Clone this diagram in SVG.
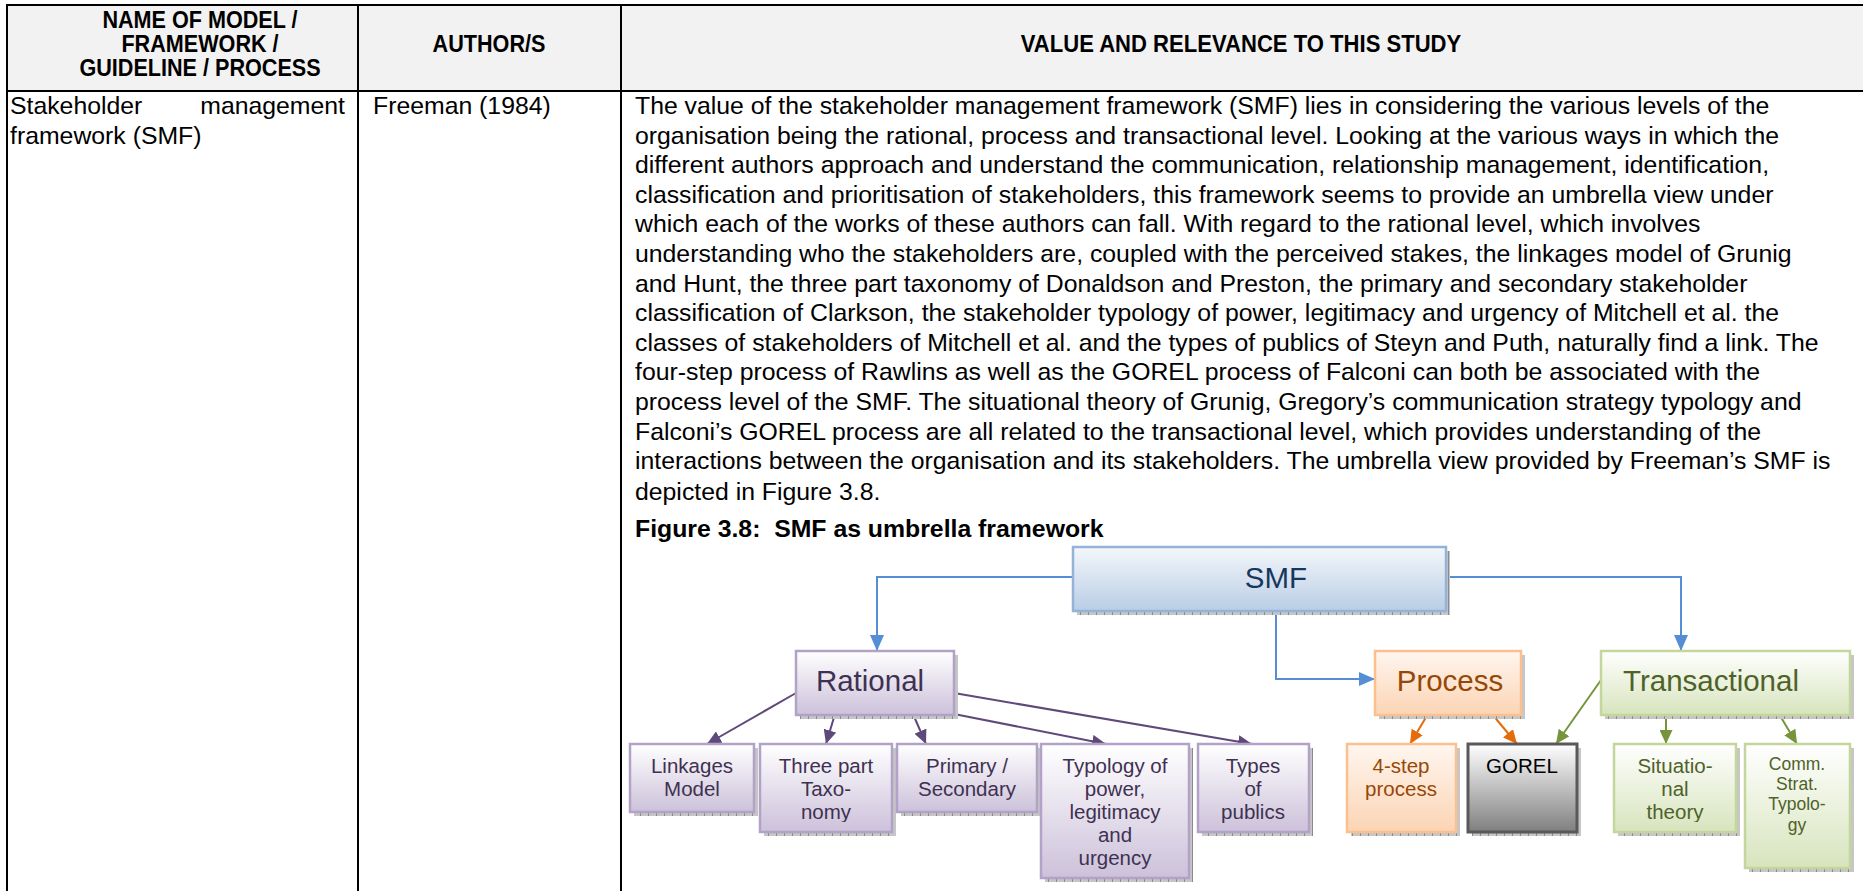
<svg xmlns="http://www.w3.org/2000/svg" width="1863" height="891" viewBox="0 0 1863 891">
<style>
.hd{font-family:"Liberation Sans",Arial,sans-serif;font-weight:bold;font-size:24px;fill:#000;text-anchor:middle}
.bd{font-family:"Liberation Sans",Arial,sans-serif;font-size:24.8px;fill:#000}
.cap{font-family:"Liberation Sans",Arial,sans-serif;font-size:24.8px;font-weight:bold;fill:#000}
.grid{stroke:#000;stroke-width:2;fill:none}
.big{font-family:"Liberation Sans",Arial,sans-serif;font-size:29.5px;text-anchor:middle}
.lf{font-family:"Liberation Sans",Arial,sans-serif;font-size:20.5px;text-anchor:middle}
.sm{font-family:"Liberation Sans",Arial,sans-serif;font-size:17.5px;text-anchor:middle}
.pur{fill:url(#gPur);stroke:#b3a2c7;stroke-width:2.5}
.ora{fill:url(#gOra);stroke:#fac08f;stroke-width:2.5}
.grn{fill:url(#gGrn);stroke:#c3d69b;stroke-width:2.5}
.shd{fill:url(#hatch)}
.tp{fill:#3f3151}.to{fill:#984806}.tg{fill:#4f6228}
.cb{stroke:#558ed5;stroke-width:2;fill:none}
.cp{stroke:#5f497a;stroke-width:2;fill:none}
.co{stroke:#e46c0a;stroke-width:2;fill:none}
.cg{stroke:#77933c;stroke-width:2;fill:none}
</style>
<defs>
<linearGradient id="gSMF" x1="0" y1="0" x2="0" y2="1"><stop offset="0" stop-color="#f4f7fb"/><stop offset="1" stop-color="#b9cde5"/></linearGradient>
<linearGradient id="gPur" x1="0" y1="0" x2="0" y2="1"><stop offset="0" stop-color="#ffffff"/><stop offset="1" stop-color="#ccc1da"/></linearGradient>
<linearGradient id="gOra" x1="0" y1="0" x2="0" y2="1"><stop offset="0" stop-color="#fff6ef"/><stop offset="1" stop-color="#fbd4b4"/></linearGradient>
<linearGradient id="gGrn" x1="0" y1="0" x2="0" y2="1"><stop offset="0" stop-color="#ffffff"/><stop offset="1" stop-color="#d7e4bd"/></linearGradient>
<linearGradient id="gGry" x1="0" y1="0" x2="0" y2="1"><stop offset="0" stop-color="#ffffff"/><stop offset="1" stop-color="#7f7f7f"/></linearGradient>
<pattern id="hatch" width="8" height="8" patternUnits="userSpaceOnUse"><rect width="8" height="8" fill="#c6c6c6"/><rect width="1" height="8" fill="#8a8a8a"/></pattern>
<marker id="mb" viewBox="0 0 10 10" refX="10" refY="5" markerWidth="16" markerHeight="14" markerUnits="userSpaceOnUse" orient="auto" preserveAspectRatio="none"><path d="M0,0 L10,5 L0,10 z" fill="#558ed5"/></marker>
<marker id="mp" viewBox="0 0 10 10" refX="10" refY="5" markerWidth="14" markerHeight="13" markerUnits="userSpaceOnUse" orient="auto" preserveAspectRatio="none"><path d="M0,0 L10,5 L0,10 z" fill="#5f497a"/></marker>
<marker id="mo" viewBox="0 0 10 10" refX="10" refY="5" markerWidth="14" markerHeight="13" markerUnits="userSpaceOnUse" orient="auto" preserveAspectRatio="none"><path d="M0,0 L10,5 L0,10 z" fill="#e46c0a"/></marker>
<marker id="mg" viewBox="0 0 10 10" refX="10" refY="5" markerWidth="14" markerHeight="13" markerUnits="userSpaceOnUse" orient="auto" preserveAspectRatio="none"><path d="M0,0 L10,5 L0,10 z" fill="#77933c"/></marker>
<clipPath id="clipLeaf"><rect x="600" y="744" width="1263" height="78"/></clipPath>
</defs>

<rect width="1863" height="891" fill="#ffffff"/>

<g id="table">
<rect x="7" y="5" width="1856" height="86" fill="#f2f2f2"/>
<line class="grid" x1="7" y1="5" x2="1863" y2="5"/>
<line class="grid" x1="7" y1="91" x2="1863" y2="91"/>
<line class="grid" x1="7" y1="4" x2="7" y2="891"/>
<line class="grid" x1="358" y1="4" x2="358" y2="891"/>
<line class="grid" x1="621" y1="4" x2="621" y2="891"/>
<text class="hd" transform="translate(200,28) scale(0.9,1)">NAME OF MODEL /</text>
<text class="hd" transform="translate(200,52) scale(0.9,1)">FRAMEWORK /</text>
<text class="hd" transform="translate(200,76) scale(0.9,1)">GUIDELINE / PROCESS</text>
<text class="hd" transform="translate(489,52) scale(0.9,1)">AUTHOR/S</text>
<text class="hd" transform="translate(1241,52) scale(0.92,1)">VALUE AND RELEVANCE TO THIS STUDY</text>
<text class="bd" x="10" y="114">Stakeholder</text>
<text class="bd" x="345" y="114" text-anchor="end">management</text>
<text class="bd" x="10" y="143.6">framework (SMF)</text>
<text class="bd" x="373" y="114">Freeman (1984)</text>
</g>

<g id="paragraph" class="bd">
<text x="635" y="114">The value of the stakeholder management framework (SMF) lies in considering the various levels of the</text>
<text x="635" y="143.6">organisation being the rational, process and transactional level. Looking at the various ways in which the</text>
<text x="635" y="173.2">different authors approach and understand the communication, relationship management, identification,</text>
<text x="635" y="202.8">classification and prioritisation of stakeholders, this framework seems to provide an umbrella view under</text>
<text x="635" y="232.4">which each of the works of these authors can fall. With regard to the rational level, which involves</text>
<text x="635" y="262">understanding who the stakeholders are, coupled with the perceived stakes, the linkages model of Grunig</text>
<text x="635" y="291.6">and Hunt, the three part taxonomy of Donaldson and Preston, the primary and secondary stakeholder</text>
<text x="635" y="321.2">classification of Clarkson, the stakeholder typology of power, legitimacy and urgency of Mitchell et al. the</text>
<text x="635" y="350.8">classes of stakeholders of Mitchell et al. and the types of publics of Steyn and Puth, naturally find a link. The</text>
<text x="635" y="380.4">four-step process of Rawlins as well as the GOREL process of Falconi can both be associated with the</text>
<text x="635" y="410">process level of the SMF. The situational theory of Grunig, Gregory’s communication strategy typology and</text>
<text x="635" y="439.6">Falconi’s GOREL process are all related to the transactional level, which provides understanding of the</text>
<text x="635" y="469.2">interactions between the organisation and its stakeholders. The umbrella view provided by Freeman’s SMF is</text>
<text x="635" y="499.8">depicted in Figure 3.8.</text>
<text class="cap" x="635" y="537" xml:space="preserve">Figure 3.8:  SMF as umbrella framework</text>
</g>

<g id="connectors">
<path class="cb" d="M1073,577 H877 V651" marker-end="url(#mb)"/>
<path class="cb" d="M1446,577 H1681 V651" marker-end="url(#mb)"/>
<path class="cb" d="M1276,611 V679 H1375" marker-end="url(#mb)"/>
<path class="cp" d="M796,693 L707,744" marker-end="url(#mp)"/>
<path class="cp" d="M835,714 L826,744" marker-end="url(#mp)"/>
<path class="cp" d="M913,714 L926,744" marker-end="url(#mp)"/>
<path class="cp" d="M954,714 L1106,744" marker-end="url(#mp)"/>
<path class="cp" d="M954,693 L1252,744" marker-end="url(#mp)"/>
<path class="co" d="M1428,714 L1410,744" marker-end="url(#mo)"/>
<path class="co" d="M1492,714 L1517,744" marker-end="url(#mo)"/>
<path class="cg" d="M1601,680 L1556,744" marker-end="url(#mg)"/>
<path class="cg" d="M1666,714 L1666,744" marker-end="url(#mg)"/>
<path class="cg" d="M1779,714 L1797,744" marker-end="url(#mg)"/>
</g>

<g id="smf">
<rect class="shd" x="1077" y="551" width="373" height="64"/>
<rect x="1073" y="547" width="373" height="64" fill="url(#gSMF)" stroke="#95b3d7" stroke-width="2.5"/>
<text class="big" x="1276" y="588" fill="#17375e">SMF</text>
</g>
<g id="rational">
<rect class="shd" x="800" y="655" width="158" height="64"/>
<rect class="pur" x="796" y="651" width="158" height="64"/>
<text class="big tp" x="870" y="691">Rational</text>
</g>
<g id="process">
<rect class="shd" x="1379" y="655" width="146" height="64"/>
<rect class="ora" x="1375" y="651" width="146" height="64"/>
<text class="big to" x="1450" y="691">Process</text>
</g>
<g id="transactional">
<rect class="shd" x="1605" y="655" width="249" height="64"/>
<rect class="grn" x="1601" y="651" width="249" height="64"/>
<text class="big tg" x="1711" y="691">Transactional</text>
</g>

<g id="linkages">
<rect class="shd" x="634" y="748" width="124" height="68"/>
<rect class="pur" x="630" y="744" width="124" height="68"/>
<text class="lf tp" x="692" y="773">Linkages</text>
<text class="lf tp" x="692" y="796">Model</text>
</g>
<g id="three-part">
<rect class="shd" x="764" y="748" width="132" height="88"/>
<rect class="pur" x="760" y="744" width="132" height="88"/>
<g clip-path="url(#clipLeaf)">
<text class="lf tp" x="826" y="773">Three part</text>
<text class="lf tp" x="826" y="796">Taxo-</text>
<text class="lf tp" x="826" y="819">nomy</text>
</g>
</g>
<g id="primary">
<rect class="shd" x="901" y="748" width="140" height="68"/>
<rect class="pur" x="897" y="744" width="140" height="68"/>
<text class="lf tp" x="967" y="773">Primary /</text>
<text class="lf tp" x="967" y="796">Secondary</text>
</g>
<g id="typology">
<rect class="shd" x="1045" y="748" width="148" height="134"/>
<rect class="pur" x="1041" y="744" width="148" height="134"/>
<text class="lf tp" x="1115" y="773">Typology of</text>
<text class="lf tp" x="1115" y="796">power,</text>
<text class="lf tp" x="1115" y="819">legitimacy</text>
<text class="lf tp" x="1115" y="842">and</text>
<text class="lf tp" x="1115" y="865">urgency</text>
</g>
<g id="types">
<rect class="shd" x="1202" y="748" width="111" height="88"/>
<rect class="pur" x="1198" y="744" width="111" height="88"/>
<text class="lf tp" x="1253" y="773">Types</text>
<text class="lf tp" x="1253" y="796">of</text>
<text class="lf tp" x="1253" y="819">publics</text>
</g>
<g id="four-step">
<rect class="shd" x="1351" y="748" width="109" height="88"/>
<rect class="ora" x="1347" y="744" width="109" height="88"/>
<text class="lf to" x="1401" y="773">4-step</text>
<text class="lf to" x="1401" y="796">process</text>
</g>
<g id="gorel">
<rect class="shd" x="1472" y="748" width="109" height="88"/>
<rect x="1468" y="744" width="109" height="88" fill="url(#gGry)" stroke="#595959" stroke-width="3"/>
<text class="lf" x="1522" y="773" fill="#000">GOREL</text>
</g>
<g id="situational">
<rect class="shd" x="1618" y="748" width="122" height="88"/>
<rect class="grn" x="1614" y="744" width="122" height="88"/>
<g clip-path="url(#clipLeaf)">
<text class="lf tg" x="1675" y="773">Situatio-</text>
<text class="lf tg" x="1675" y="796">nal</text>
<text class="lf tg" x="1675" y="819">theory</text>
</g>
</g>
<g id="comm">
<rect class="shd" x="1749" y="748" width="105" height="124"/>
<rect class="grn" x="1745" y="744" width="105" height="124"/>
<text class="sm tg" x="1797" y="770">Comm.</text>
<text class="sm tg" x="1797" y="790">Strat.</text>
<text class="sm tg" x="1797" y="810">Typolo-</text>
<text class="sm tg" x="1797" y="831">gy</text>
</g>
</svg>
